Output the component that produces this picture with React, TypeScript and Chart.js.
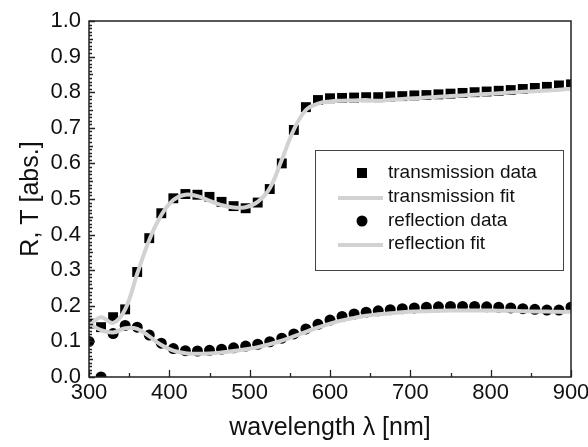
import React, { useEffect, useRef } from "react";
import { Chart, registerables } from "chart.js";

Chart.register(...registerables);

const wavelengths = [
  300, 315, 330, 345, 360, 375, 390, 405, 420, 435, 450, 465, 480, 495, 510, 525, 540, 555, 570, 585,
  600, 615, 630, 645, 660, 675, 690, 705, 720, 735, 750, 765, 780, 795, 810, 825, 840, 855, 870, 885, 900,
];

const transmissionData = [
  0.15, 0.14, 0.168, 0.19, 0.295, 0.39, 0.46, 0.502, 0.514, 0.512, 0.506, 0.492, 0.48, 0.474, 0.49, 0.528,
  0.6, 0.694, 0.758, 0.778, 0.783, 0.784, 0.785, 0.786, 0.786, 0.788, 0.789, 0.791, 0.792, 0.794, 0.796,
  0.798, 0.8, 0.802, 0.804, 0.806, 0.809, 0.812, 0.815, 0.819, 0.822,
];

const transmissionFit = [
  0.145, 0.168, 0.152, 0.19, 0.29, 0.385, 0.455, 0.497, 0.512, 0.508, 0.495, 0.483, 0.476, 0.477, 0.492,
  0.53, 0.61, 0.695, 0.75, 0.768, 0.774, 0.776, 0.777, 0.778, 0.776, 0.779, 0.781, 0.783, 0.785, 0.787,
  0.789, 0.791, 0.793, 0.795, 0.797, 0.799, 0.801, 0.803, 0.805, 0.807, 0.81,
];

const reflectionData = [
  0.1, 0.0, 0.122, 0.145, 0.14, 0.118, 0.095, 0.08, 0.074, 0.073, 0.075, 0.078, 0.082, 0.087, 0.092, 0.099,
  0.109, 0.121, 0.135, 0.148, 0.16, 0.17, 0.177, 0.182, 0.186, 0.189, 0.192, 0.194, 0.196, 0.197, 0.198,
  0.198, 0.198, 0.197, 0.196, 0.194, 0.192, 0.19, 0.188, 0.188, 0.196,
];

const reflectionFit = [
  0.15, 0.132, 0.125, 0.137, 0.135, 0.114, 0.09, 0.074, 0.067, 0.065, 0.066, 0.069, 0.073, 0.078, 0.084,
  0.092, 0.102, 0.114, 0.127, 0.139, 0.15, 0.159, 0.166, 0.172, 0.176, 0.179, 0.182, 0.184, 0.185, 0.186,
  0.187, 0.187, 0.187, 0.187, 0.186, 0.186, 0.185, 0.184, 0.184, 0.183, 0.183,
];

const xMajorTicks = [300, 400, 500, 600, 700, 800, 900];
const xMinorTicks = [350, 450, 550, 650, 750, 850];
const yMajorTicks = [0, 0.1, 0.2, 0.3, 0.4, 0.5, 0.6, 0.7, 0.8, 0.9, 1.0];

const seriesLabels = ["transmission data", "transmission fit", "reflection data", "reflection fit"];

const FONT = "'Liberation Sans', Arial, Helvetica, sans-serif";
const FIT_COLOR = "#d2d2d2";

const toPts = (ys: number[]) => wavelengths.map((x, i) => ({ x, y: ys[i] }));

const decorPlugin = {
  id: "decor",
  afterDatasetsDraw(chart: any) {
    const { ctx, chartArea: a, scales } = chart;
    ctx.save();
    ctx.strokeStyle = "#222";
    ctx.lineWidth = 1.3;
    ctx.beginPath();
    for (const v of xMajorTicks) {
      const px = Math.round(scales.x.getPixelForValue(v)) + 0.5;
      ctx.moveTo(px, a.bottom);
      ctx.lineTo(px, a.bottom - 7);
    }
    for (const v of xMinorTicks) {
      const px = Math.round(scales.x.getPixelForValue(v)) + 0.5;
      ctx.moveTo(px, a.bottom);
      ctx.lineTo(px, a.bottom - 4);
    }
    for (let i = 0; i <= 100; i++) {
      const v = i / 100;
      const py = Math.round(scales.y.getPixelForValue(v)) + 0.5;
      const len = i % 10 === 0 ? 6 : i % 5 === 0 ? 4 : 3;
      ctx.moveTo(a.left, py);
      ctx.lineTo(a.left + len, py);
    }
    ctx.stroke();
    ctx.lineWidth = 1.5;
    ctx.strokeRect(a.left, a.top, a.right - a.left, a.bottom - a.top);

    // legend
    const bx = a.left + 226;
    const by = a.top + 129;
    const bw = 248;
    const bh = 120;
    ctx.fillStyle = "#fff";
    ctx.fillRect(bx, by, bw, bh);
    ctx.strokeStyle = "#444";
    ctx.lineWidth = 1;
    ctx.strokeRect(bx + 0.5, by + 0.5, bw, bh);
    const rows = [23, 47, 71, 94];
    const symX = bx + 47;
    ctx.font = `19px ${FONT}`;
    ctx.textBaseline = "middle";
    ctx.textAlign = "left";
    rows.forEach((dy, i) => {
      const y = by + dy;
      ctx.fillStyle = "#000";
      if (i === 0) {
        ctx.fillRect(symX - 5, y - 5, 10, 10);
      } else if (i === 2) {
        ctx.beginPath();
        ctx.arc(symX, y, 5.5, 0, Math.PI * 2);
        ctx.fill();
      } else {
        ctx.strokeStyle = FIT_COLOR;
        ctx.lineWidth = 4;
        ctx.beginPath();
        ctx.moveTo(bx + 23, y + 1);
        ctx.lineTo(bx + 68, y + 1);
        ctx.stroke();
      }
      ctx.fillStyle = "#111";
      ctx.fillText(seriesLabels[i], bx + 73, y);
    });
    ctx.restore();
  },
};

export default function App() {
  const ref = useRef<HTMLCanvasElement | null>(null);

  useEffect(() => {
    document.body.style.margin = "0";
    const canvas = ref.current;
    if (!canvas) return;
    const chart = new Chart(canvas, {
      type: "scatter",
      data: {
        datasets: [
          {
            label: seriesLabels[0],
            data: toPts(transmissionData),
            pointStyle: "rect",
            pointRadius: 7,
            pointBackgroundColor: "#000",
            pointBorderWidth: 0,
            showLine: false,
            clip: 0,
            order: 2,
          },
          {
            label: seriesLabels[1],
            data: toPts(transmissionFit),
            showLine: true,
            borderColor: FIT_COLOR,
            borderWidth: 4,
            pointRadius: 0,
            tension: 0.4,
            clip: 0,
            order: 1,
          },
          {
            label: seriesLabels[2],
            data: toPts(reflectionData),
            pointStyle: "circle",
            pointRadius: 5.5,
            pointBackgroundColor: "#000",
            pointBorderWidth: 0,
            showLine: false,
            clip: 0,
            order: 2,
          },
          {
            label: seriesLabels[3],
            data: toPts(reflectionFit),
            showLine: true,
            borderColor: FIT_COLOR,
            borderWidth: 4,
            pointRadius: 0,
            tension: 0.4,
            clip: 0,
            order: 1,
          },
        ] as any,
      },
      options: {
        responsive: false,
        animation: false,
        devicePixelRatio: 1,
        layout: { padding: { top: 21, right: 17, left: 0, bottom: 0 } },
        plugins: { legend: { display: false }, tooltip: { enabled: false } },
        scales: {
          x: {
            type: "linear",
            min: 300,
            max: 900,
            afterBuildTicks: (s: any) => {
              s.ticks = xMajorTicks.map((v) => ({ value: v }));
            },
            afterFit: (s: any) => {
              s.height = 70;
              s.paddingLeft = 0;
              s.paddingRight = 0;
            },
            grid: { display: false, drawTicks: false },
            border: { display: false },
            ticks: {
              padding: 3,
              color: "#111",
              font: { family: FONT, size: 22 },
              maxRotation: 0,
              callback: (v: any) => String(v),
            },
            title: {
              display: true,
              text: "wavelength λ [nm]",
              color: "#111",
              font: { family: FONT, size: 25 },
              padding: { top: 0, bottom: 4 },
            },
          },
          y: {
            type: "linear",
            min: 0,
            max: 1,
            afterBuildTicks: (s: any) => {
              s.ticks = yMajorTicks.map((v) => ({ value: v }));
            },
            afterFit: (s: any) => {
              s.width = 89;
              s.paddingTop = 0;
              s.paddingBottom = 0;
            },
            grid: { display: false, drawTicks: false },
            border: { display: false },
            ticks: {
              padding: 8,
              color: "#111",
              font: { family: FONT, size: 22 },
              callback: (v: any) => Number(v).toFixed(1),
            },
            title: {
              display: true,
              text: "R, T [abs.]",
              color: "#111",
              font: { family: FONT, size: 25 },
              padding: { top: 16, bottom: 0 },
            },
          },
        },
      },
      plugins: [decorPlugin],
    });
    return () => chart.destroy();
  }, []);

  return <canvas ref={ref} width={588} height={447} style={{ display: "block" }} />;
}
